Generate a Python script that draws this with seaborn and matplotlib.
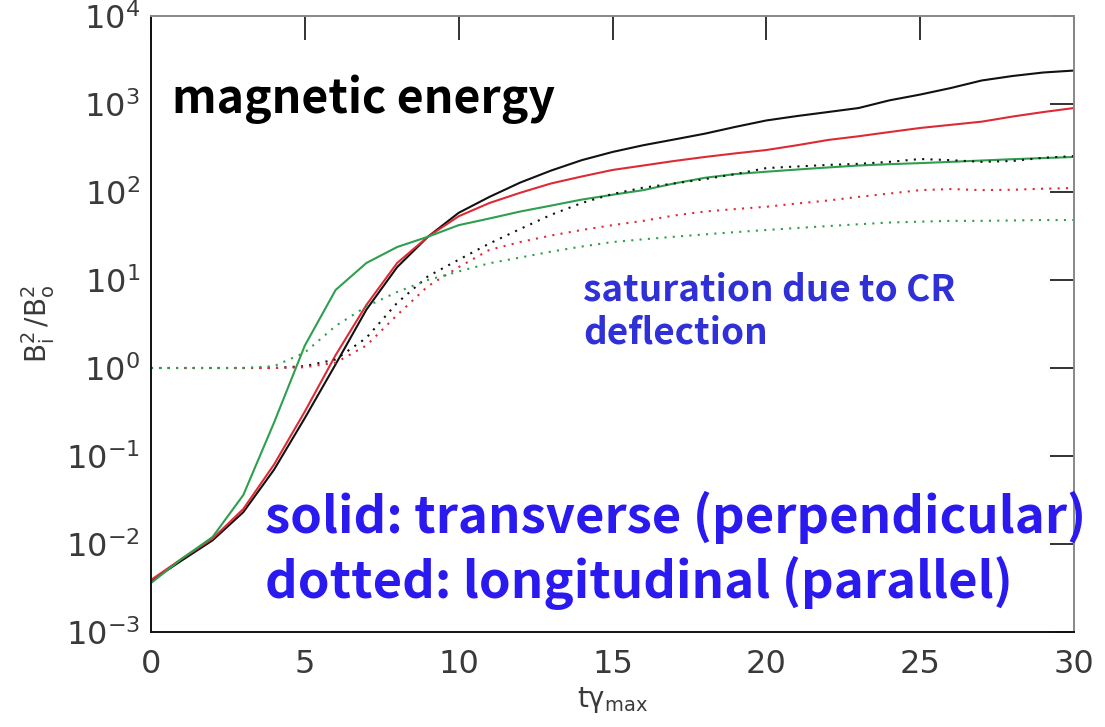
import numpy as np
import pandas as pd
import matplotlib
matplotlib.use("Agg")
import matplotlib.pyplot as plt
import seaborn as sns

# time axis (t * gamma_max)
t = list(range(0, 31))

# transverse (perpendicular) components, solid lines
trans_black = [0.0038, 0.0065, 0.011, 0.023, 0.07, 0.27, 1.1, 4.6, 14, 31,
               58, 88, 128, 175, 230, 285, 340, 395, 460, 550,
               650, 730, 810, 900, 1100, 1280, 1520, 1850, 2080, 2280, 2400]
trans_red = [0.0039, 0.0068, 0.0115, 0.025, 0.08, 0.32, 1.4, 5.2, 15.6, 31,
             53, 75, 98, 125, 150, 178, 200, 225, 250, 275,
             300, 340, 390, 430, 480, 534, 580, 630, 720, 810, 900]
trans_green = [0.0036, 0.0068, 0.012, 0.036, 0.24, 1.8, 7.7, 15.6, 23.7, 31,
               42, 50, 60, 70, 82, 93, 105, 125, 145, 160,
               170, 180, 190, 200, 207, 213, 220, 228, 236, 243, 250]

# longitudinal (parallel) components, dotted lines
long_black = [1.0, 1.0, 1.0, 1.0, 1.0, 1.05, 1.25, 2.2, 5.5, 11,
              17, 26, 38, 55, 75, 95, 112, 125, 140, 160,
              187, 195, 203, 209, 220, 237, 230, 220, 225, 245, 256]
long_red = [1.0, 1.0, 1.0, 1.0, 1.0, 1.02, 1.15, 1.8, 4.0, 8.5,
            14, 22, 27, 32, 37, 42, 47, 54, 60, 64,
            68, 74, 80, 88, 96, 105, 108, 105, 106, 109, 111]
long_green = [1.0, 1.0, 1.0, 1.0, 1.05, 1.5, 3.0, 5.0, 7.3, 10,
              12.5, 15.5, 18, 21, 24, 27, 29, 31, 33, 35,
              37, 39, 41, 43, 45, 46, 47, 47, 47.5, 48, 48]

xticks = [0, 5, 10, 15, 20, 25, 30]
yticks = [1e-3, 1e-2, 1e-1, 1e0, 1e1, 1e2, 1e3, 1e4]

sns.set_theme(style="white")
plt.rcParams["font.family"] = ["DejaVu Sans"]
plt.rcParams["mathtext.fontset"] = "dejavusans"

bold_family = ["Noto Sans CJK KR", "DejaVu Sans"]

fig = plt.figure(figsize=(11.05, 7.27), dpi=100)
ax = fig.add_axes([151 / 1105, 1 - 632 / 727, 923 / 1105, 616 / 727])

colors = {"black": "#111111", "red": "#dc2b35", "green": "#2e9e4f"}
series = [
    (trans_black, "black", "solid"), (trans_red, "red", "solid"), (trans_green, "green", "solid"),
    (long_black, "black", "dotted"), (long_red, "red", "dotted"), (long_green, "green", "dotted"),
]
for vals, c, style in series:
    df = pd.DataFrame({"t": t, "B": vals})
    ls = "-" if style == "solid" else (0, (1, 3.0))
    sns.lineplot(data=df, x="t", y="B", ax=ax, color=colors[c], lw=1.5,
                 linestyle=ls, legend=False)

ax.set_yscale("log")
ax.set_xlim(0, 30)
ax.set_ylim(1e-3, 1e4)
ax.set_xticks(xticks)
ax.set_yticks(yticks)
ax.minorticks_off()
ax.set_xticklabels([str(v) for v in xticks])
ax.set_yticklabels([r"$\mathregular{10^{%d}}$" % int(np.log10(v)) for v in yticks])
ax.tick_params(axis="both", which="major", direction="in", length=17, width=1.3,
               colors="#222222", labelcolor="#3a3a3a", labelsize=23,
               top=True, right=True, pad=12)
ax.tick_params(axis="y", pad=8)
for side in ["left", "bottom"]:
    ax.spines[side].set_color("#111111")
    ax.spines[side].set_linewidth(1.4)
for side in ["top", "right"]:
    ax.spines[side].set_color("#888888")
    ax.spines[side].set_linewidth(1.4)

ax.set_xlabel(r"$\mathregular{t\gamma_{max}}$", fontsize=20, color="#3a3a3a", labelpad=4)
ax.set_ylabel(r"$\mathregular{B_i^2\,/B_o^2}$", fontsize=20, color="#3a3a3a", labelpad=6)

def fx(px):
    return (px - 151) / 923

def fy(py):
    return (632 - py) / 616

common = dict(transform=ax.transAxes, fontweight="bold", family=bold_family,
              va="baseline", ha="left", clip_on=False)
ax.text(fx(172), fy(113), "magnetic energy", fontsize=33.4, color="black", **common)
ax.text(fx(583), fy(300), "saturation due to CR", fontsize=26.6, color="#3030d8", **common)
ax.text(fx(583), fy(343), "deflection", fontsize=26.6, color="#3030d8", **common)
ax.text(fx(265), fy(533), "solid: transverse (perpendicular)", fontsize=36.6,
        color="#2a1af0", **common)
ax.text(fx(265), fy(598), "dotted: longitudinal (parallel)", fontsize=36.6,
        color="#2a1af0", **common)

fig.savefig("out.png", dpi=100)
